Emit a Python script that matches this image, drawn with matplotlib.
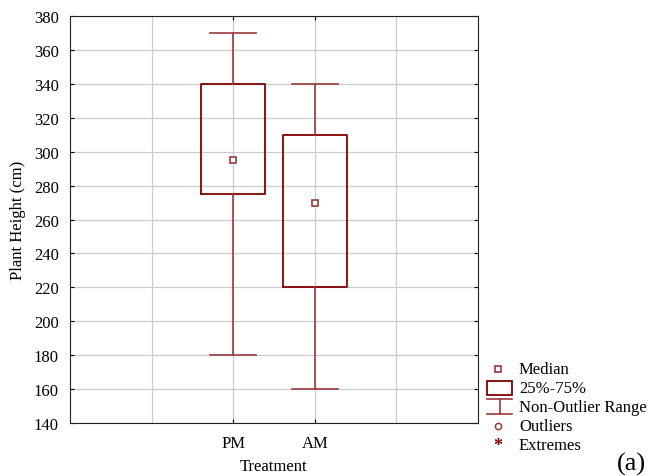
import matplotlib.pyplot as plt
from matplotlib.patches import Rectangle

plt.rcParams['font.family'] = ['Liberation Serif', 'DejaVu Serif']

# datos
grupos = ["PM", "AM"]
posiciones = [2, 3]
medianas = [295, 270]
q1 = [275, 220]
q3 = [340, 310]
bigote_inf = [180, 160]
bigote_sup = [370, 340]

rojo = "#800000"
rojo_claro = "#9a3a3a"

fig = plt.figure(figsize=(6.49, 4.77), dpi=100)
ax = fig.add_axes([70 / 649, 53 / 477, 408 / 649, 407 / 477])

stats = []
for i, g in enumerate(grupos):
    stats.append(dict(label=g, med=medianas[i], q1=q1[i], q3=q3[i],
                      whislo=bigote_inf[i], whishi=bigote_sup[i], fliers=[]))

ax.bxp(stats, positions=posiciones, widths=0.79, showfliers=False,
       boxprops=dict(color=rojo, linewidth=1.3),
       whiskerprops=dict(color=rojo_claro, linewidth=1.2),
       capprops=dict(color=rojo_claro, linewidth=1.2),
       medianprops=dict(visible=False), capwidths=0.56)
ax.plot(posiciones, medianas, 's', ms=5, mfc='white', mec=rojo_claro, mew=1.2, zorder=5)

ax.set_xlim(0, 5)
ax.set_ylim(140, 380)
ax.set_yticks(range(140, 381, 20))
ax.set_xticks(posiciones)
ax.set_xticklabels(grupos)
ax.set_xticks([1, 2, 3, 4], minor=True)
ax.grid(True, which='both', color='#cccccc', linewidth=0.9)
ax.grid(False, axis='y', which='minor')
ax.set_axisbelow(True)
ax.tick_params(axis='both', labelsize=12, direction='in', length=3, top=True, right=True)
ax.tick_params(axis='x', pad=9)
ax.tick_params(axis='y', pad=8)
ax.tick_params(axis='x', which='minor', length=0)
for s in ax.spines.values():
    s.set_color('#222222')
ax.set_ylabel("Plant Height (cm)", fontsize=12, labelpad=6)
ax.set_xlabel("Treatment", fontsize=12, labelpad=5)

# leyenda dibujada a mano
lg = fig.add_axes([0, 0, 1, 1])
lg.set_xlim(0, 649)
lg.set_ylim(477, 0)
lg.axis('off')
lg.plot(498, 370, 's', ms=5, mfc='white', mec=rojo_claro, mew=1.2)
lg.add_patch(Rectangle((487, 382), 25, 14, fill=False, ec=rojo, lw=1.3))
lg.plot([487, 512], [400, 400], color=rojo_claro, lw=1.2)
lg.plot([499.5, 499.5], [400, 415], color=rojo_claro, lw=1.2)
lg.plot([487, 512], [415, 415], color=rojo_claro, lw=1.2)
lg.plot(498, 427, 'o', ms=4.5, mfc='white', mec=rojo_claro, mew=1.1)
lg.text(498, 447, "*", color=rojo, fontsize=13, ha='center', va='center', fontweight='bold')
textos = ["Median", "25%-75%", "Non-Outlier Range", "Outliers", "Extremes"]
for t, y in zip(textos, [370, 389, 408, 427, 446]):
    lg.text(519, y, t, fontsize=12, va='center')
lg.text(646, 476, "(a)", fontsize=19, ha='right', va='bottom')

fig.savefig("out.png", dpi=100)
